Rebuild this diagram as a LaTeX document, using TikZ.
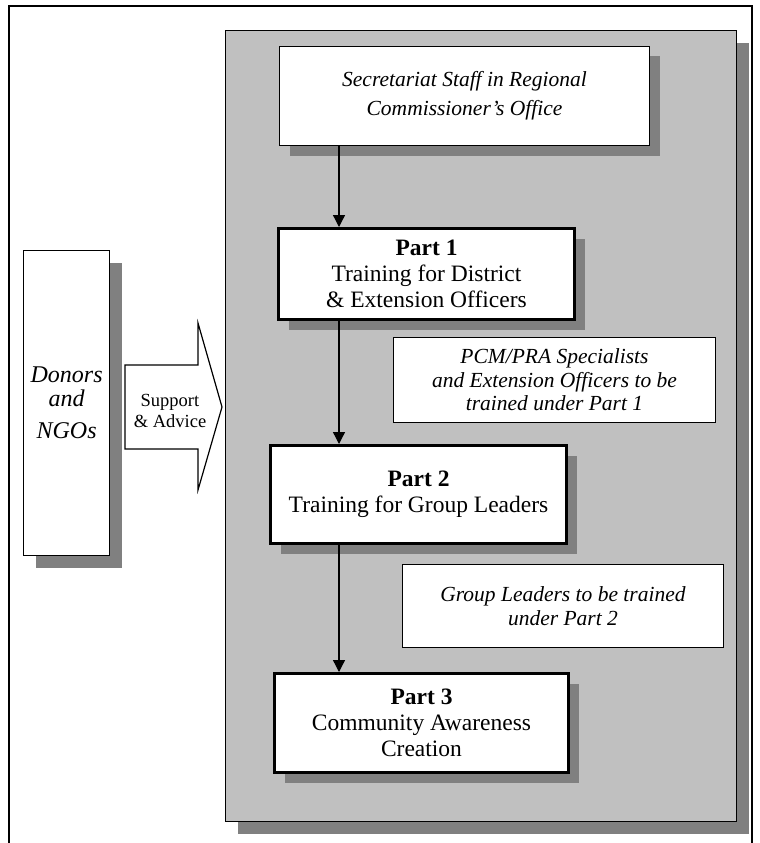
\documentclass[tikz,border=0pt]{standalone}
\usepackage{fontspec}
\setmainfont{Liberation Serif}
\usetikzlibrary{arrows.meta,shadows}
\definecolor{panelgray}{HTML}{C0C0C0}
\definecolor{shadowgray}{HTML}{808080}
\tikzset{
  boxshadow/.style={drop shadow={shadow xshift=#1,shadow yshift=-#1,fill=shadowgray,opacity=1}},
  plainbox/.style={draw,fill=white,anchor=north west,inner sep=0pt,align=center,line width=1pt},
  partbox/.style={plainbox,line width=3pt,boxshadow=10pt,font=\fontsize{23.5}{26}\selectfont},
  notebox/.style={plainbox,font=\itshape\fontsize{21.5}{23.5}\selectfont},
  flowline/.style={line width=1.3pt,-{Triangle[width=12pt,length=12pt]}}
}
\begin{document}
\begin{tikzpicture}[x=1pt,y=-1pt]
  \useasboundingbox (0,0) rectangle (760,843);
  % outer frame, open at the bottom
  \draw[line width=1.5pt] (9,843) -- (9,6) -- (752,6) -- (752,843);

  % grey panel holding the three parts
  \node[plainbox,fill=panelgray,line width=1.2pt,boxshadow=12pt,
        minimum width=511,minimum height=791] (panel) at (225,30) {};

  \node[plainbox,boxshadow=10pt,minimum width=370,minimum height=99,
        font=\itshape\fontsize{21.5}{29}\selectfont] (sec) at (279,46)
    {Secretariat Staff in Regional\\Commissioner's Office};

  \node[partbox,minimum width=296,minimum height=91] (p1) at (277,227)
    {\textbf{Part 1}\\Training for District\\\& Extension Officers};
  \node[notebox,minimum width=322,minimum height=85] (pcm) at (393,337)
    {PCM/PRA Specialists\\and Extension Officers to be\\trained under Part 1};

  \node[partbox,minimum width=296,minimum height=98] (p2) at (269,444)
    {\textbf{Part 2}\\Training for Group Leaders};
  \node[notebox,minimum width=321,minimum height=83] (grp) at (402,564)
    {\raisebox{-6pt}{Group Leaders to be trained}\\\raisebox{-6pt}{under Part 2}};

  \node[partbox,minimum width=294,minimum height=99] (p3) at (273,672)
    {\textbf{Part 3}\\Community Awareness\\Creation};

  % donors on the left
  \node[plainbox,line width=1.3pt,boxshadow=12pt,minimum width=86,minimum height=305,
        font=\itshape\fontsize{24}{24}\selectfont] (donors) at (23,250)
    {Donors\\and\\[8pt]NGOs};

  % support arrow
  \draw[line width=1.2pt,fill=white] (125,365) -- (198,365) -- (198,323) -- (222,407)
    -- (198,490) -- (198,449) -- (125,449) -- cycle;
  \node[align=center,inner sep=0pt,font=\fontsize{18.5}{21}\selectfont] (support) at (170,411)
    {Support\\\& Advice};

  % flow down the panel
  \coordinate (spine) at (339,0);
  \draw[flowline] (sec.south -| spine) -- (p1.north -| spine);
  \draw[flowline] (p1.south -| spine) -- (p2.north -| spine);
  \draw[flowline] (p2.south -| spine) -- (p3.north -| spine);
\end{tikzpicture}
\end{document}
